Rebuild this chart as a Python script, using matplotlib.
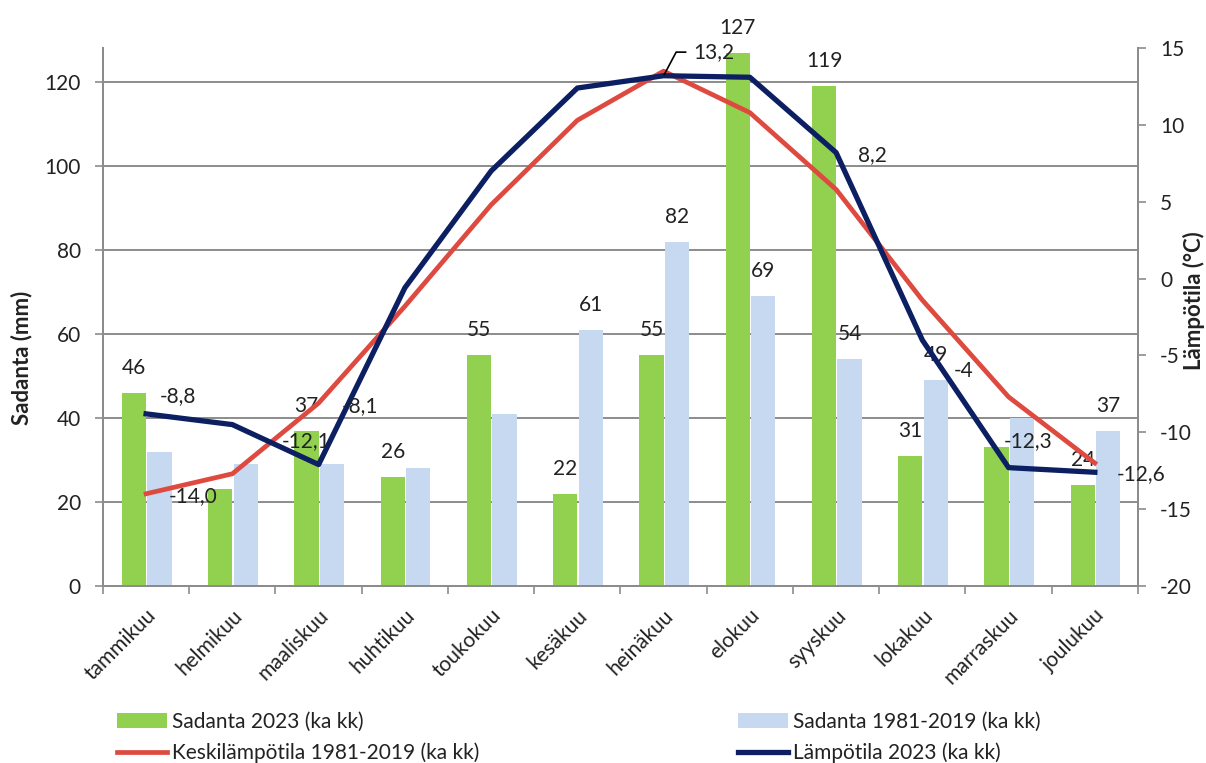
import numpy as np
import matplotlib.pyplot as plt

plt.rcParams['font.family'] = ['Lato', 'DejaVu Sans']
plt.rcParams['axes.unicode_minus'] = False

kuukaudet = ["tammikuu", "helmikuu", "maaliskuu", "huhtikuu", "toukokuu", "kesäkuu",
             "heinäkuu", "elokuu", "syyskuu", "lokakuu", "marraskuu", "joulukuu"]
sadanta_2023 = [46, 23, 37, 26, 55, 22, 55, 127, 119, 31, 33, 24]
sadanta_1981_2019 = [32, 29, 29, 28, 41, 61, 82, 69, 54, 49, 40, 37]
keskilampo_1981_2019 = [-14.0, -12.7, -8.1, -1.8, 4.8, 10.3, 13.5, 10.8, 5.8, -1.4, -7.7, -12.0]
lampo_2023 = [-8.8, -9.5, -12.1, -0.6, 7.0, 12.4, 13.2, 13.1, 8.2, -4.0, -12.3, -12.6]

# which bars get a value label
sad23_labels = [0, 2, 3, 4, 5, 6, 7, 8, 9, 11]
sad8119_labels = [5, 6, 7, 8, 9, 11]

GREEN = '#92D050'
LIGHTBLUE = '#C6D9F1'
RED = '#DE4A40'
NAVY = '#0B1F62'
GRID = '#8C8C8C'
TXT = '#222222'
FS = 15

x = np.arange(len(kuukaudet))

fig = plt.figure(figsize=(12.06, 7.63), dpi=100)
ax = fig.add_axes([0.0854, 0.232, 0.8582, 0.705])
ax2 = ax.twinx()

w = 0.28
b1 = ax.bar(x - 0.14, sadanta_2023, w, color=GREEN, label='Sadanta 2023 (ka kk)')
b2 = ax.bar(x + 0.155, sadanta_1981_2019, w, color=LIGHTBLUE, label='Sadanta 1981-2019 (ka kk)')

for i in sad23_labels:
    ax.annotate(str(sadanta_2023[i]), (x[i] - 0.14, sadanta_2023[i]), xytext=(0, 18),
                textcoords='offset points', ha='center', va='center', fontsize=FS, color=TXT)
for i in sad8119_labels:
    ax.annotate(str(sadanta_1981_2019[i]), (x[i] + 0.155, sadanta_1981_2019[i]), xytext=(0, 18),
                textcoords='offset points', ha='center', va='center', fontsize=FS, color=TXT)

l1, = ax2.plot(x, keskilampo_1981_2019, color=RED, lw=3.4, solid_joinstyle='round',
               label='Keskilämpötila 1981-2019 (ka kk)')
l2, = ax2.plot(x, lampo_2023, color=NAVY, lw=3.8, solid_joinstyle='round',
               label='Lämpötila 2023 (ka kk)')


def fmt(v, dec=1):
    return f"{v:.{dec}f}".replace('.', ',')


# temperature labels: (series, month, offset in points, decimals)
temp_labels = [
    (lampo_2023, 0, (23, 13), 1),
    (keskilampo_1981_2019, 0, (34, -2), 1),
    (lampo_2023, 2, (-9, 17), 1),
    (keskilampo_1981_2019, 2, (30, -2), 1),
    (lampo_2023, 8, (26, -2), 1),
    (lampo_2023, 9, (30, -22), 0),
    (lampo_2023, 10, (14, 19), 1),
    (lampo_2023, 11, (33, -1), 1),
]
for serie, i, off, dec in temp_labels:
    ax2.annotate(fmt(serie[i], dec), (x[i], serie[i]), xytext=off, textcoords='offset points',
                 ha='center', va='center', fontsize=FS, color=TXT)

# July peak with a leader line
ax2.annotate(fmt(lampo_2023[6]), (x[6], lampo_2023[6]), xytext=(21, 17),
             textcoords='offset points', ha='left', va='center', fontsize=FS, color=TXT,
             arrowprops=dict(arrowstyle='-', color='black', lw=1.2, shrinkA=3, shrinkB=1,
                             connectionstyle='angle,angleA=0,angleB=62,rad=0'))

ax.set_xlim(-0.5, 11.5)
ax.set_ylim(0, 128.1)
ax2.set_ylim(-20, 15)
ax.set_yticks(range(0, 121, 20))
ax2.set_yticks(range(-20, 16, 5))

ax.set_xticks(x)
ax.set_xticklabels(kuukaudet, rotation=45, ha='right', rotation_mode='anchor', fontsize=FS, color=TXT)
ax.set_xticks(np.arange(-0.5, 12, 1), minor=True)
ax.tick_params(axis='x', which='major', length=0, pad=14)
ax.tick_params(axis='x', which='minor', length=6, color=GRID, width=1.2)

ax.tick_params(axis='y', labelsize=FS, colors=TXT, length=6, width=1.2, color=GRID, pad=10)
ax2.tick_params(axis='y', labelsize=FS, colors=TXT, length=6, width=1.2, color=GRID, pad=10)

ax.set_axisbelow(True)
ax.grid(axis='y', color=GRID, lw=1.4)
for a in (ax, ax2):
    a.spines['top'].set_visible(False)
    for s in ('left', 'right', 'bottom'):
        a.spines[s].set_color(GRID)
        a.spines[s].set_linewidth(1.4)

ax.set_ylabel('Sadanta (mm)', fontsize=16, fontweight='bold', color=TXT)
ax.yaxis.set_label_coords(-0.068, 0.424)
ax2.set_ylabel('Lämpötila (°C)', fontsize=16, fontweight='bold', color=TXT)
ax2.yaxis.set_label_coords(1.043, 0.53)

fig.legend(handles=[b1, l1, b2, l2], ncol=2, loc='upper left', bbox_to_anchor=(0.09, 0.078),
           frameon=False, fontsize=FS, handlelength=2.4, handletextpad=0.25,
           columnspacing=12.4, labelspacing=0.5, borderaxespad=0, labelcolor=TXT)

fig.savefig('out.png', dpi=100)
